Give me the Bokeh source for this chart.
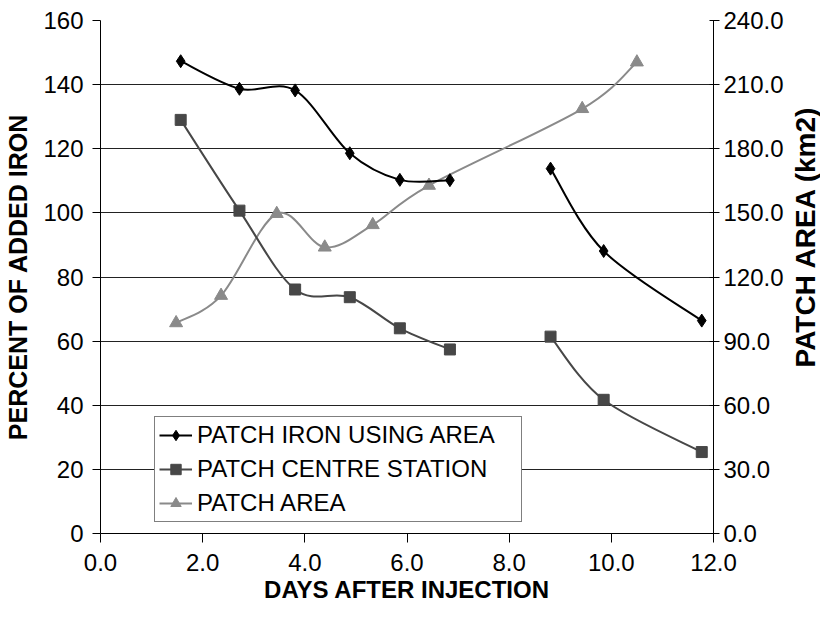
from bokeh.plotting import figure
from bokeh.layouts import row
from bokeh.models import (Range1d, LinearAxis, FixedTicker, NumeralTickFormatter,
                          Legend, LegendItem, ColumnDataSource)
from bokeh.embed import file_html
from bokeh.resources import INLINE

# ---------------- data ----------------
days = [1.57, 2.72, 3.81, 4.88, 5.86, 6.84, 8.81, 9.85, 11.77]
iron_using_area = [147.3, 138.7, 138.2, 118.6, 110.3, 110.2, 113.8, 88.1, 66.4]
centre_station = [129.0, 100.7, 76.1, 73.7, 64.0, 57.4, 61.4, 41.7, 25.4]
# sampling run each point belongs to (lines are broken between runs)
run_id = [1, 1, 1, 1, 1, 1, 2, 2, 2]

area_days = [1.48, 2.36, 3.45, 4.39, 5.33, 6.43, 9.43, 10.50]
patch_area = [98.5, 111.3, 149.6, 133.9, 144.4, 162.8, 198.7, 220.5]
area_run_id = [1, 1, 1, 1, 1, 1, 1, 1]

x_ticks = [0, 2, 4, 6, 8, 10, 12]
left_ticks = [0, 20, 40, 60, 80, 100, 120, 140, 160]
right_ticks = [0, 30, 60, 90, 120, 150, 180, 210, 240]

FONT = "Liberation Sans"
FS = "24px"


def smooth_segments(xs, ys, runs):
    """Cubic Bezier pieces (Catmull-Rom style, like a spreadsheet 'smoothed line')."""
    out = dict(x0=[], y0=[], x1=[], y1=[], cx0=[], cy0=[], cx1=[], cy1=[])
    groups = {}
    for x, y, r in zip(xs, ys, runs):
        groups.setdefault(r, []).append((x, y))
    for pts in groups.values():
        n = len(pts)
        for i in range(n - 1):
            p0 = pts[i - 1] if i > 0 else pts[i]
            p1 = pts[i]
            p2 = pts[i + 1]
            p3 = pts[i + 2] if i + 2 < n else pts[i + 1]
            out["x0"].append(p1[0]); out["y0"].append(p1[1])
            out["x1"].append(p2[0]); out["y1"].append(p2[1])
            out["cx0"].append(p1[0] + (p2[0] - p0[0]) / 6.0)
            out["cy0"].append(p1[1] + (p2[1] - p0[1]) / 6.0)
            out["cx1"].append(p2[0] - (p3[0] - p1[0]) / 6.0)
            out["cy1"].append(p2[1] - (p3[1] - p1[1]) / 6.0)
    return ColumnDataSource(out)


p = figure(width=786, height=607, output_backend="svg", toolbar_location=None,
           x_range=Range1d(0, 12), y_range=Range1d(0, 160),
           min_border_left=100, min_border_right=69, min_border_top=20,
           min_border_bottom=74)
p.extra_y_ranges = {"area": Range1d(0, 240)}
p.outline_line_color = None
p.background_fill_color = "white"
p.border_fill_color = "white"

# grid
p.xgrid.visible = False
p.ygrid.ticker = FixedTicker(ticks=left_ticks)
p.ygrid.grid_line_color = "#222222"
p.ygrid.grid_line_width = 1

# bottom axis
xa = p.xaxis[0]
xa.ticker = FixedTicker(ticks=x_ticks)
xa.formatter = NumeralTickFormatter(format="0.0")
xa.axis_label = "DAYS AFTER INJECTION"
xa.major_tick_out = 9
xa.major_tick_in = 0
xa.minor_tick_out = 0
xa.minor_tick_in = 0
xa.major_label_standoff = 11
xa.axis_label_standoff = 2

# left axis
ya = p.yaxis[0]
ya.ticker = FixedTicker(ticks=left_ticks)
ya.formatter = NumeralTickFormatter(format="0")
ya.axis_label = "PERCENT OF ADDED IRON"
ya.major_tick_out = 8
ya.major_tick_in = 0
ya.minor_tick_out = 0
ya.minor_tick_in = 0
ya.major_label_standoff = 9
ya.axis_label_standoff = 8

# right axis (its title sits in the narrow strip figure to the right)
ra = LinearAxis(y_range_name="area", ticker=FixedTicker(ticks=right_ticks),
                formatter=NumeralTickFormatter(format="0.0"))
ra.major_tick_out = 6
ra.major_tick_in = 4
ra.minor_tick_out = 0
ra.minor_tick_in = 0
ra.major_label_standoff = 4
p.add_layout(ra, "right")

for ax in [xa, ya, ra]:
    ax.axis_line_color = "black"
    ax.axis_line_width = 1
    ax.major_tick_line_color = "black"
    ax.major_label_text_font = FONT
    ax.major_label_text_font_size = FS
    ax.major_label_text_color = "black"
    ax.axis_label_text_font = FONT
    ax.axis_label_text_font_size = FS
    ax.axis_label_text_font_style = "bold"
    ax.axis_label_text_color = "black"
ya.axis_label_text_font_size = "25px"

# series
iron_src = ColumnDataSource(dict(x=days, y=iron_using_area))
centre_src = ColumnDataSource(dict(x=days, y=centre_station))
area_src = ColumnDataSource(dict(x=area_days, y=patch_area))

IRON_C = "#000000"
CENTRE_C = "#474747"
AREA_C = "#8a8a8a"

r_area_l = p.bezier(x0="x0", y0="y0", x1="x1", y1="y1", cx0="cx0", cy0="cy0",
                    cx1="cx1", cy1="cy1",
                    source=smooth_segments(area_days, patch_area, area_run_id),
                    line_color=AREA_C, line_width=2, y_range_name="area")
r_area_m = p.scatter("x", "y", source=area_src, marker="triangle", size=13,
                     fill_color=AREA_C, line_color=AREA_C, y_range_name="area")

r_centre_l = p.bezier(x0="x0", y0="y0", x1="x1", y1="y1", cx0="cx0", cy0="cy0",
                      cx1="cx1", cy1="cy1",
                      source=smooth_segments(days, centre_station, run_id),
                      line_color=CENTRE_C, line_width=2)
r_centre_m = p.scatter("x", "y", source=centre_src, marker="square", size=11,
                       fill_color=CENTRE_C, line_color=CENTRE_C)

r_iron_l = p.bezier(x0="x0", y0="y0", x1="x1", y1="y1", cx0="cx0", cy0="cy0",
                    cx1="cx1", cy1="cy1",
                    source=smooth_segments(days, iron_using_area, run_id),
                    line_color=IRON_C, line_width=2)
r_iron_m = p.scatter("x", "y", source=iron_src, marker="diamond", size=13,
                     fill_color=IRON_C, line_color=IRON_C)

legend = Legend(items=[
    LegendItem(label="PATCH IRON USING AREA", renderers=[r_iron_l, r_iron_m]),
    LegendItem(label="PATCH CENTRE STATION", renderers=[r_centre_l, r_centre_m]),
    LegendItem(label="PATCH AREA", renderers=[r_area_l, r_area_m]),
], location=(54, 11), padding=4, spacing=6, margin=0,
    glyph_width=33, glyph_height=26, label_height=26, label_width=320,
    label_standoff=5,
    border_line_color="black", border_line_width=1,
    background_fill_color="white", background_fill_alpha=1,
    label_text_font=FONT, label_text_font_size=FS, label_text_color="black")
p.add_layout(legend)

# narrow strip holding the right-hand axis title (reads bottom-to-top)
p2 = figure(width=34, height=607, output_backend="svg", toolbar_location=None,
            x_range=Range1d(0, 1), y_range=Range1d(0, 1),
            min_border_left=33, min_border_right=0, min_border_top=88,
            min_border_bottom=223)
aligned_off = False
try:
    p.frame_align = False
    p2.frame_align = False
    aligned_off = True
except Exception:
    pass
if not aligned_off:
    p2.min_border_top = 20
    p2.min_border_bottom = 74
p2.outline_line_color = None
p2.xgrid.visible = False
p2.ygrid.visible = False
p2.xaxis.visible = False
t_ax = p2.yaxis[0]
t_ax.ticker = FixedTicker(ticks=[])
t_ax.axis_line_color = None
t_ax.major_tick_out = 0
t_ax.major_tick_in = 0
t_ax.minor_tick_out = 0
t_ax.minor_tick_in = 0
t_ax.axis_label = "PATCH AREA (km2)"
t_ax.axis_label_standoff = 0
t_ax.axis_label_text_font = FONT
t_ax.axis_label_text_font_size = "28px"
t_ax.axis_label_text_font_style = "bold"
t_ax.axis_label_text_color = "black"

layout = row(p, p2, spacing=0)
open("out.html", "w").write(file_html(layout, INLINE))
